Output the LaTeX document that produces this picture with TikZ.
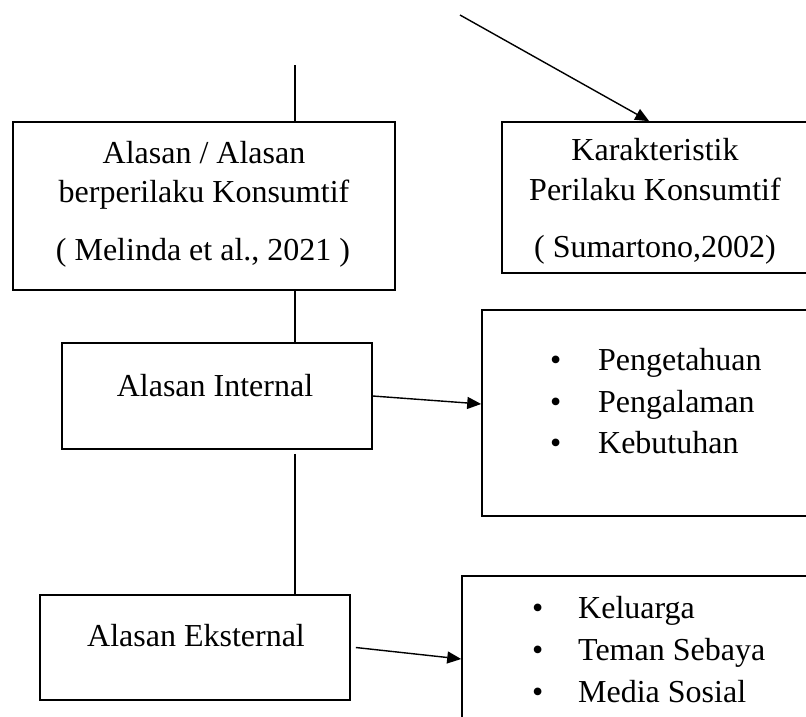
\documentclass[tikz,border=0pt]{standalone}
\usepackage{fontspec}
\setmainfont{Liberation Serif}
\usetikzlibrary{arrows.meta}
\tikzset{
  box/.style={draw=black, line width=1.6pt, rectangle, inner sep=0pt, fill=none},
  txt/.style={inner sep=0pt, anchor=base, font=\fontsize{32}{38}\selectfont},
  item/.style={inner sep=0pt, anchor=base west, font=\fontsize{32}{38}\selectfont},
  conn/.style={draw=black, line width=1.4pt},
  arr/.style={conn, -{Triangle[length=14pt,width=12pt]}}
}
\begin{document}
\begin{tikzpicture}[x=1pt,y=-1pt]
\useasboundingbox (0,0) rectangle (806,716);
\clip (0,0) rectangle (806,716);
\fill[white] (0,0) rectangle (806,716);

% boxes
\node[box, minimum width=382pt, minimum height=168pt] (box1) at (204,206) {};
\node[box, minimum width=308pt, minimum height=151pt] (kar) at (656,197.5) {};
\node[box, minimum width=310pt, minimum height=106pt] (int) at (217,396) {};
\node[box, minimum width=330pt, minimum height=206pt] (list1) at (647,413) {};
\node[box, minimum width=310pt, minimum height=105pt] (ext) at (195,647.5) {};
\node[box, minimum width=350pt, minimum height=184pt] (list2) at (637,668) {};

% texts
\node[txt] (b1a) at (204,163) {Alasan / Alasan};
\node[txt] (b1b) at (204,202) {berperilaku Konsumtif};
\node[txt] (b1c) at (203,260) {( Melinda et al., 2021 )};
\node[txt] (k1) at (655,160) {Karakteristik};
\node[txt] (k2) at (655,200) {Perilaku Konsumtif};
\node[txt] (k3) at (655,257) {( Sumartono,2002)};
\node[txt] (it) at (215,396) {Alasan Internal};
\node[txt] (et) at (196,646) {Alasan Eksternal};

\node[item] (l1a) at (550,370) {\makebox[48pt][l]{•}Pengetahuan};
\node[item] (l1b) at (550,412) {\makebox[48pt][l]{•}Pengalaman};
\node[item] (l1c) at (550,453) {\makebox[48pt][l]{•}Kebutuhan};
\node[item] (l2a) at (532,618) {\makebox[46pt][l]{•}Keluarga};
\node[item] (l2b) at (532,660) {\makebox[46pt][l]{•}Teman Sebaya};
\node[item] (l2c) at (532,702) {\makebox[46pt][l]{•}Media Sosial};

% connectors
\coordinate (t1) at (295,65);
\coordinate (t2) at (460,15);
\draw[conn] (t1) -- (t1 |- box1.north);
\draw[arr] (t2) -- ([xshift=148pt]kar.north west);
\draw[conn] (t1 |- box1.south) -- (t1 |- int.north);
\draw[conn] ([yshift=-4pt]int.south -| t1) -- (t1 |- ext.north);
\draw[arr] (int.east) -- ([yshift=9pt]list1.west);
\draw[arr] ([xshift=5pt]ext.east) -- ([yshift=9pt]list2.west);
\end{tikzpicture}
\end{document}
